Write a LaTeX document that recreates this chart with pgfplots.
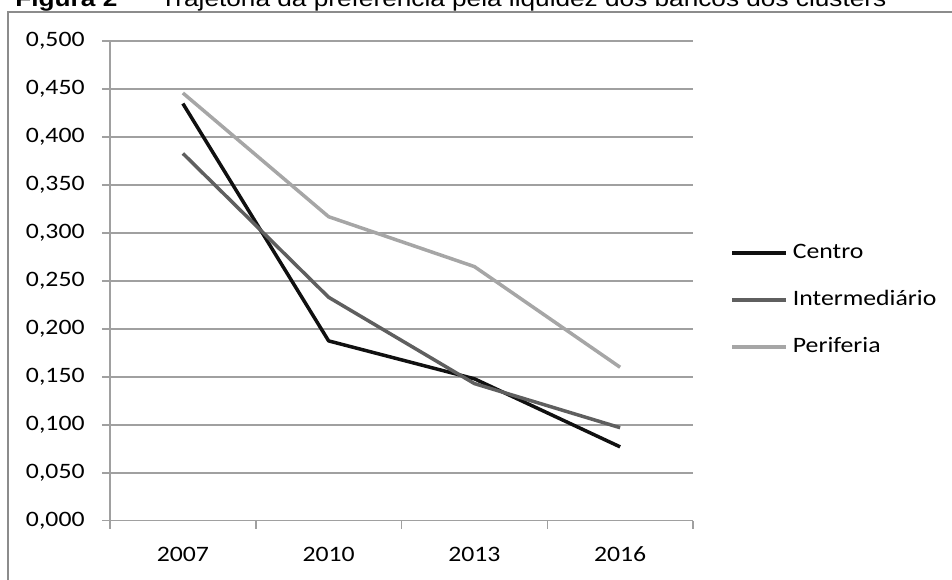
\documentclass[border=0pt]{standalone}
\usepackage{fontspec}
\setmainfont[FakeStretch=1.17]{Carlito}
\newfontfamily\arialfont[FakeStretch=1.17]{Liberation Sans}
\usepackage{pgfplots}
\pgfplotsset{compat=1.18}
\definecolor{gridgray}{HTML}{A0A0A0}
\definecolor{framegray}{HTML}{8C8C8C}
\definecolor{cDark}{HTML}{101010}
\definecolor{cMid}{HTML}{5F5F5F}
\definecolor{cLight}{HTML}{A6A6A6}
\newcommand{\tickfont}{\fontsize{11}{13}\selectfont}
\begin{document}
\begin{tikzpicture}
\useasboundingbox (0pt,0pt) rectangle (476pt,-289.5pt);
\clip (0pt,0pt) rectangle (476pt,-289.5pt);
\begin{scope}[x=0.5pt,y=-0.5pt]
\draw[framegray, line width=0.7pt] (8,700) -- (8,12) -- (1000,12);
\node[anchor=base west, inner sep=0pt, font=\arialfont\fontsize{11.2}{13}\selectfont] at (15,6) {\textbf{Figura 2}};
\node[anchor=base west, inner sep=0pt, font=\arialfont\fontsize{11.2}{13}\selectfont] at (160,6) {Trajetória da preferência pela liquidez dos bancos dos clusters};
\end{scope}
\begin{axis}[
  at={(55pt,-260.35pt)}, anchor=south west,
  scale only axis, width=291.5pt, height=239.75pt,
  xmin=0, xmax=4, ymin=0, ymax=0.5,
  axis lines*=left,
  axis line style={gridgray, line width=0.75pt},
  ymajorgrids, grid style={gridgray, line width=0.75pt},
  ytick={0,0.05,0.1,0.15,0.2,0.25,0.3,0.35,0.4,0.45,0.5},
  /pgf/number format/fixed, /pgf/number format/fixed zerofill,
  /pgf/number format/precision=3, /pgf/number format/use comma,
  /pgf/number format/assume math mode=true,
  y tick label style={font=\tickfont, anchor=east, inner sep=0pt, xshift=-8.5pt},
  tick align=outside, major tick length=4pt,
  tick style={gridgray, line width=0.75pt},
  xtick={0,1,2,3,4}, xticklabels={},
  extra x ticks={0.5,1.5,2.5,3.5},
  extra x tick labels={2007,2010,2013,2016},
  extra x tick style={tick style={draw=none}, grid=none},
  x tick label style={font=\tickfont, anchor=north, inner sep=0pt, yshift=-9pt},
  legend style={at={(1.0635,0.4665)}, anchor=west, draw=none, fill=none, inner sep=0pt,
    font=\tickfont, row sep=15.5pt, nodes={inner sep=0pt, text height=8pt, text depth=0pt}},
  legend cell align=left,
  legend image code/.code={\draw[#1] (0pt,-1.5pt) -- (27pt,-1.5pt);},
  /tikz/every odd column/.append style={column sep=2.5pt},
]
\addplot[cDark, line width=1.75pt, line join=round] coordinates {(0.5,0.435) (1.5,0.1875) (2.5,0.148) (3.5,0.077)};
\addlegendentry{Centro}
\addplot[cMid, line width=1.75pt, line join=round] coordinates {(0.5,0.383) (1.5,0.233) (2.5,0.143) (3.5,0.097)};
\addlegendentry{Intermediário}
\addplot[cLight, line width=1.75pt, line join=round] coordinates {(0.5,0.446) (1.5,0.317) (2.5,0.265) (3.5,0.160)};
\addlegendentry{Periferia}
\end{axis}
\end{tikzpicture}
\end{document}
